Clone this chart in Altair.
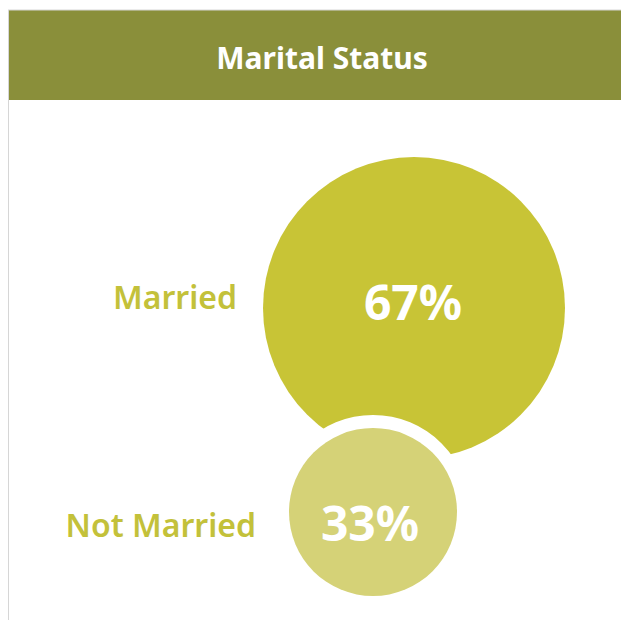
import altair as alt
import pandas as pd

# ---- data ----
title_text = ["Marital Status"]
categories = ["Married", "Not Married"]
percents = [67, 33]

df = pd.DataFrame({"status": categories, "pct": percents})
df["pct_label"] = [f"{p}%" for p in percents]
title_df = pd.DataFrame({"title": title_text})

HEADER = "#8A8F3A"
BIG = "#C8C436"
SMALL = "#D5D277"
LABEL = "#C3C13A"
FONT = "Noto Sans"

W = 613


def px(rng):
    return alt.Scale(type="point", domain=categories, range=rng, padding=0)


header = alt.Chart(title_df).mark_rect(color=HEADER).encode(
    x=alt.value(0), x2=alt.value(W), y=alt.value(2), y2=alt.value(92)
)
top_line = alt.Chart(title_df).mark_rule(color="#d6d6d6", strokeWidth=1).encode(
    x=alt.value(0), x2=alt.value(W), y=alt.value(2)
)
left_line = alt.Chart(title_df).mark_rule(color="#d6d6d6", strokeWidth=2).encode(
    x=alt.value(0), y=alt.value(2), y2=alt.value(612)
)
title = alt.Chart(title_df).mark_text(
    color="white", font=FONT, fontSize=30, fontWeight="bold", baseline="middle", align="center"
).encode(x=alt.value(314), y=alt.value(52), text="title:N")

cx = alt.X("status:N", scale=px([406, 365]), axis=None)
cy = alt.Y("status:N", scale=px([300, 504]), axis=None)
color = alt.Color("status:N", scale=alt.Scale(domain=categories, range=[BIG, SMALL]), legend=None)
size = alt.Size("pct:Q", scale=alt.Scale(domain=[33, 67], range=[28224, 91204]), legend=None)

big = alt.Chart(df).mark_circle(opacity=1).transform_filter(
    alt.datum.status == "Married"
).encode(x=cx, y=cy, color=color, size=size)

halo = alt.Chart(df).mark_circle(opacity=1, color="white").transform_filter(
    alt.datum.status == "Not Married"
).encode(x=cx, y=cy, size=alt.value(37636))

small = alt.Chart(df).mark_circle(opacity=1).transform_filter(
    alt.datum.status == "Not Married"
).encode(x=cx, y=cy, color=color, size=size)

pct_text = alt.Chart(df).mark_text(
    color="white", font=FONT, fontSize=48, fontWeight="bold", baseline="middle", align="center"
).encode(
    x=alt.X("status:N", scale=px([405, 362]), axis=None),
    y=alt.Y("status:N", scale=px([298, 519]), axis=None),
    text="pct_label:N",
)

labels = alt.Chart(df).mark_text(
    color=LABEL, font=FONT, fontSize=32, fontWeight=600, baseline="alphabetic", align="right"
).encode(
    x=alt.X("status:N", scale=px([229, 248]), axis=None),
    y=alt.Y("status:N", scale=px([301, 529]), axis=None),
    text="status:N",
)

chart = alt.layer(
    header, top_line, left_line, title, big, halo, small, pct_text, labels
).resolve_scale(
    x="independent", y="independent", color="independent", size="independent"
).properties(
    width=W, height=612, padding=0, autosize="none", background="white"
).configure_view(stroke=None)

chart.save("out.html", embed_options={"renderer": "svg", "actions": False})
